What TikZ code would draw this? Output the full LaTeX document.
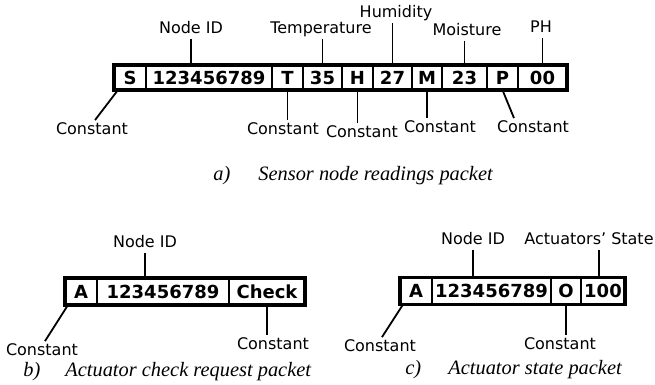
\documentclass[tikz,border=0pt]{standalone}
\usepackage{fontspec}
\setmainfont{Liberation Serif}
\newfontfamily\labelfont{DejaVu Sans}
\usepackage{tikz}
\usetikzlibrary{positioning}

\tikzset{
	field/.style={draw,line width=1pt,outer sep=0pt,inner sep=0pt,minimum height=12.5pt,font=\labelfont\bfseries\fontsize{9}{10}\selectfont},
	tag/.style={inner sep=1pt,text height=6pt,text depth=1.5pt,font=\labelfont\fontsize{8}{9}\selectfont},
	caption/.style={inner sep=0pt,anchor=base west,font=\itshape\fontsize{10.2}{12}\selectfont},
	frame/.style={line width=1.8pt},
	link/.style={line width=0.9pt}
}

\begin{document}
\begin{tikzpicture}[x=0.5pt,y=-0.5pt]
		
		\useasboundingbox (0,0) rectangle (655,385);
		
		% a) Sensor node readings packet
		\node[field,minimum width=16pt] (s) at (130,77.5) {S};
		\node[field,minimum width=63pt,right=0pt of s] (sid) {123456789};
		\node[field,minimum width=15.5pt,right=0pt of sid] (t) {T};
		\node[field,minimum width=19.5pt,right=0pt of t] (tv) {35};
		\node[field,minimum width=15.5pt,right=0pt of tv] (h) {H};
		\node[field,minimum width=19.5pt,right=0pt of h] (hv) {27};
		\node[field,minimum width=15pt,right=0pt of hv] (m) {M};
		\node[field,minimum width=22.5pt,right=0pt of m] (mv) {23};
		\node[field,minimum width=15.5pt,right=0pt of mv] (p) {P};
		\node[field,minimum width=24.5pt,right=0pt of p] (pv) {00};
		\draw[frame] (s.north west) rectangle (pv.south east);
		
		\node[tag] (lid) at (191,29) {Node ID};
		\node[tag] (ltemp) at (321,29) {Temperature};
		\node[tag] (lhum) at (396,13) {Humidity};
		\node[tag] (lmoist) at (467,31) {Moisture};
		\node[tag] (lph) at (541,28) {PH};
		\draw[link] (lid.south) -- (lid.south |- sid.north);
		\draw[link] (ltemp.south -| tv.north) -- (tv.north);
		\draw[link] (lhum.south -| hv.north) -- (hv.north);
		\draw[link] (lmoist.south -| mv.north) -- (mv.north);
		\draw[link] (lph.south -| pv.north) -- (pv.north);
		
		\node[tag] (cs) at (92,130) {Constant};
		\node[tag] (ct) at (283,130) {Constant};
		\node[tag] (ch) at (362,133) {Constant};
		\node[tag] (cm) at (440,128) {Constant};
		\node[tag] (cp) at (533,128) {Constant};
		\draw[link] ([xshift=2pt]s.south west) -- ([xshift=1.5pt]cs.north);
		\draw[link] (t.south) -- (t.south |- ct.north);
		\draw[link] (h.south) -- (h.south |- ch.north);
		\draw[link] (m.south) -- (m.south |- cm.north);
		\draw[link] (p.south) -- ([xshift=-9.5pt]cp.north);
		
		\node[caption] (capa) at (213,181) {a)};
		\node[caption] (texta) at (258,181) {Sensor node readings packet};
		
		% b) Actuator check request packet
		\node[field,minimum width=16pt,minimum height=13.5pt] (ba) at (81,291.5) {A};
		\node[field,minimum width=66pt,minimum height=13.5pt,right=0pt of ba] (bid) {123456789};
		\node[field,minimum width=38pt,minimum height=13.5pt,right=0pt of bid] (bchk) {Check};
		\draw[frame] (ba.north west) rectangle (bchk.south east);
		
		\node[tag] (blid) at (145,243) {Node ID};
		\draw[link] (blid.south) -- (blid.south |- bid.north);
		
		\node[tag] (bcl) at (42,351) {Constant};
		\node[tag] (bcr) at (273,345) {Constant};
		\draw[link] ([xshift=1.5pt]ba.south west) -- ([xshift=1.5pt]bcl.north);
		\draw[link] (bchk.south) -- (bchk.south |- bcr.north);
		
		\node[caption] (capb) at (23,377) {b)};
		\node[caption] (textb) at (65,377) {Actuator check request packet};
		
		% c) Actuator state packet
		\node[field,minimum width=16pt,minimum height=13.5pt] (ca) at (416,291) {A};
		\node[field,minimum width=59.5pt,minimum height=13.5pt,right=0pt of ca] (cid) {123456789};
		\node[field,minimum width=15pt,minimum height=13.5pt,right=0pt of cid] (co) {O};
		\node[field,minimum width=22pt,minimum height=13.5pt,right=0pt of co] (cv) {100};
		\draw[frame] (ca.north west) rectangle (cv.south east);
		
		\node[tag] (clid) at (473,240) {Node ID};
		\node[tag,anchor=east] (clst) at (656,240) {Actuators’ State};
		\draw[link] (clid.south) -- (clid.south |- cid.north);
		\draw[link] ([xshift=-2pt]cv.north |- clst.south) -- ([xshift=-2pt]cv.north);
		
		\node[tag] (ccl) at (380,347) {Constant};
		\node[tag] (ccr) at (560,345) {Constant};
		\draw[link] ([xshift=1.5pt]ca.south west) -- ([xshift=1pt]ccl.north);
		\draw[link] (co.south) -- (co.south |- ccr.north);
		
		\node[caption] (capc) at (405,375) {c)};
		\node[caption] (textc) at (448,375) {Actuator state packet};
		
	\end{tikzpicture}
\end{document}
